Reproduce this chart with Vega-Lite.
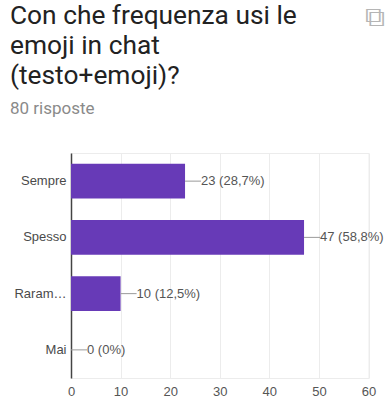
{
  "$schema": "https://vega.github.io/schema/vega-lite/v6.json",
  "width": 297.5,
  "height": 225,
  "autosize": "none",
  "padding": {"left": 71, "top": 153, "right": 16, "bottom": 21},
  "background": "white",
  "title": {
    "text": ["Con che frequenza usi le", "emoji in chat", "(testo+emoji)?"],
    "subtitle": "80 risposte",
    "anchor": "start",
    "frame": "group",
    "dx": -61,
    "offset": -114,
    "font": "Roboto",
    "fontSize": 26.3,
    "fontWeight": "normal",
    "lineHeight": 30,
    "color": "#222222",
    "subtitleFont": "Roboto",
    "subtitleFontSize": 17,
    "subtitleColor": "#8a8a8a",
    "subtitlePadding": 12
  },
  "data": {
    "values": [
      {"risposta": "Sempre", "conteggio": 23, "etichetta": "23 (28,7%)"},
      {"risposta": "Spesso", "conteggio": 47, "etichetta": "47 (58,8%)"},
      {"risposta": "Raramente", "conteggio": 10, "etichetta": "10 (12,5%)"},
      {"risposta": "Mai", "conteggio": 0, "etichetta": "0 (0%)"}
    ]
  },
  "encoding": {
    "y": {
      "field": "risposta",
      "type": "nominal",
      "sort": null,
      "scale": {"paddingInner": 0.38, "paddingOuter": 0.19},
      "axis": {
        "labelFont": "Liberation Sans",
        "labelFontSize": 13,
        "labelColor": "#4a4a4a",
        "labelLimit": 57,
        "labelPadding": 5,
        "ticks": false,
        "domainColor": "#444444",
        "domainWidth": 1.5,
        "grid": false,
        "title": "⧉",
        "titleFont": "DejaVu Sans",
        "titleFontSize": 28,
        "titleFontWeight": "normal",
        "titleColor": "#b5b5b5",
        "titleAngle": 0,
        "titleAlign": "left",
        "titleBaseline": "middle",
        "titleX": 293,
        "titleY": -136
      }
    },
    "x": {
      "field": "conteggio",
      "type": "quantitative",
      "title": null,
      "scale": {"domain": [0, 60], "nice": false},
      "axis": {
        "values": [0, 10, 20, 30, 40, 50, 60],
        "labelFont": "Liberation Sans",
        "labelFontSize": 13,
        "labelColor": "#555555",
        "labelPadding": 7,
        "labelFlush": false,
        "ticks": false,
        "domain": false,
        "grid": true,
        "gridColor": "#ececec",
        "gridWidth": 1
      }
    }
  },
  "layer": [
    {"mark": {"type": "bar", "color": "#673ab7"}},
    {
      "mark": {"type": "rule", "color": "#9a9a9a", "strokeWidth": 1, "x2Offset": 16},
      "encoding": {"x2": {"field": "conteggio"}}
    },
    {
      "mark": {
        "type": "text",
        "align": "left",
        "dx": 16,
        "font": "Liberation Sans",
        "fontSize": 13,
        "color": "#555555"
      },
      "encoding": {"text": {"field": "etichetta"}}
    }
  ],
  "config": {"view": {"stroke": "#ececec"}}
}
